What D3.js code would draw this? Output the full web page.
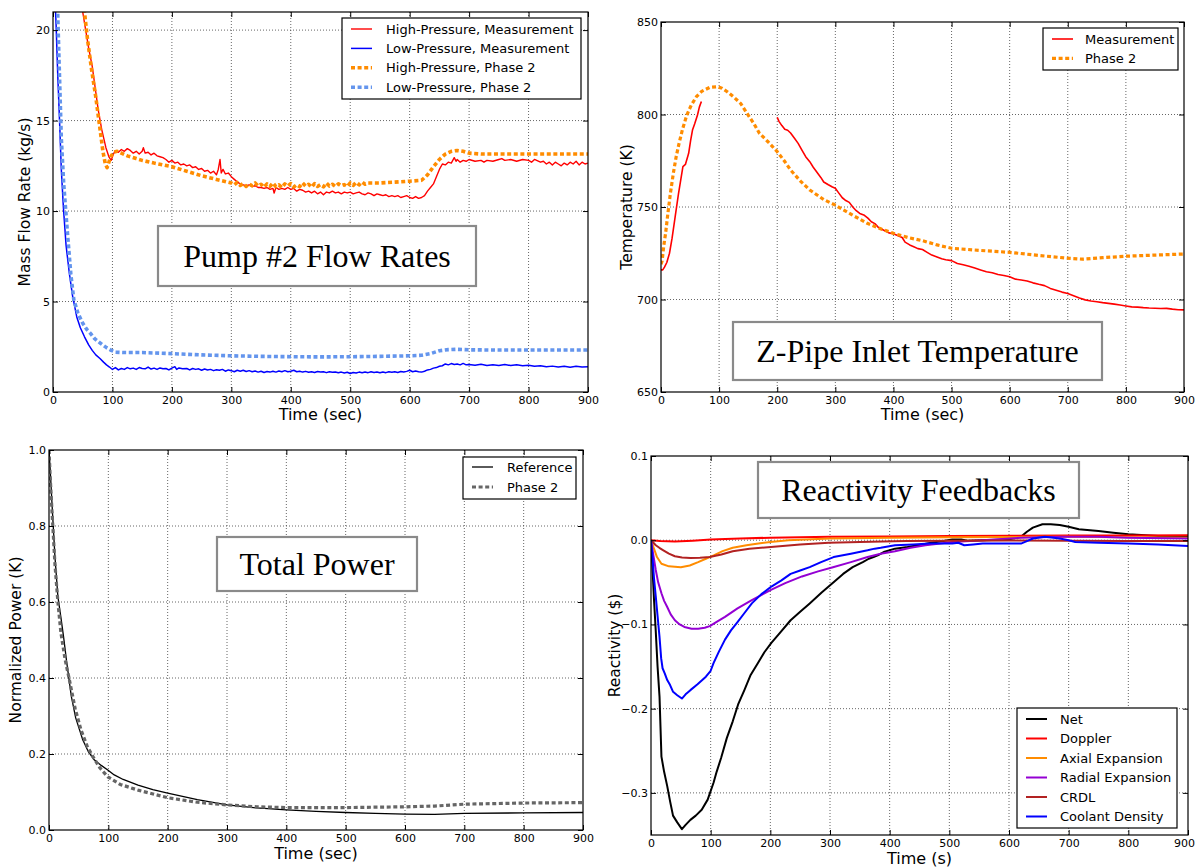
<!DOCTYPE html>
<html>
<head>
<meta charset="utf-8">
<script src="https://cdn.jsdelivr.net/npm/d3@7"></script>
<style>
  html, body { margin: 0; padding: 0; background: #fff; }
  svg { display: block; }
  .tick text { font-family: "DejaVu Sans", sans-serif; font-size: 11px; fill: #000; }
  .axlabel { font-family: "DejaVu Sans", sans-serif; fill: #000; }
  .legend text { font-family: "DejaVu Sans", sans-serif; font-size: 13px; fill: #000; }
  .title { font-family: "Liberation Serif", "Times New Roman", serif; font-size: 32px; fill: #000; }
</style>
</head>
<body>
<svg id="chart" width="1196" height="868"></svg>
<script>
// ---- Pump #2 flow rates (kg/s) ----
const hpMeasurement = [[45,22.4],[50,21.0],[55,20.0],[60,19.0],[66,18.0],[71,16.8],[76,15.6],[82,14.5],[89,13.5],[94,13.0],[98,12.8],[101,13.1],[104,13.3],[110,13.25],[115,13.4],[120,13.3],[125,13.45],[130,13.35],[135,13.2],[140,13.3],[145,13.15],[150,13.3],[152,13.5],[155,13.2],[160,13.25],[165,13.1],[170,13.2],[175,13.05],[180,13.0],[185,12.95],[190,12.85],[195,12.7],[200,12.8],[205,12.65],[210,12.7],[215,12.55],[220,12.6],[225,12.5],[230,12.55],[235,12.4],[240,12.45],[245,12.3],[250,12.35],[255,12.2],[260,12.25],[265,12.1],[270,12.2],[275,12.0],[278,12.3],[281,12.85],[283,12.1],[286,12.3],[290,12.05],[295,12.1],[300,11.9],[305,11.75],[310,11.6],[315,11.5],[320,11.45],[325,11.4],[330,11.45],[335,11.35],[340,11.4],[345,11.3],[350,11.3],[355,11.25],[360,11.3],[365,11.2],[370,11.25],[372,11.0],[375,11.3],[380,11.2],[385,11.25],[390,11.2],[395,11.3],[400,11.2],[405,11.25],[410,11.1],[415,11.2],[420,11.15],[425,11.05],[430,11.1],[435,11.0],[440,11.1],[445,10.95],[450,11.05],[455,10.9],[460,11.05],[465,11.0],[470,11.1],[475,11.0],[480,11.05],[485,10.95],[490,11.05],[495,11.0],[500,11.05],[505,10.95],[510,11.0],[515,11.05],[520,10.95],[525,10.9],[530,11.0],[535,10.95],[540,10.85],[545,10.95],[550,10.9],[555,10.85],[560,10.9],[565,10.8],[570,10.85],[575,10.8],[580,10.85],[585,10.75],[590,10.8],[595,10.85],[600,10.75],[605,10.7],[610,10.8],[615,10.7],[620,10.75],[625,10.85],[630,11.1],[635,11.3],[640,11.5],[645,11.9],[650,12.3],[655,12.6],[660,12.55],[665,12.7],[670,12.65],[675,12.95],[678,12.75],[680,12.85],[685,12.7],[690,12.8],[695,12.75],[700,12.85],[710,12.75],[720,12.8],[725,12.7],[730,12.8],[740,12.75],[750,12.85],[755,12.9],[760,12.8],[770,12.85],[780,12.75],[790,12.85],[800,12.8],[805,12.7],[810,12.85],[820,12.7],[825,12.75],[830,12.6],[835,12.7],[840,12.55],[845,12.7],[850,12.6],[855,12.5],[860,12.65],[865,12.55],[870,12.7],[875,12.6],[880,12.75],[885,12.55],[890,12.7],[895,12.6],[900,12.65]];
const lpMeasurement = [[3,22],[5,20.5],[8,17.5],[11,15.0],[14,12.3],[17.5,10.2],[22,8.1],[27.5,6.55],[33,5.3],[40,4.15],[46,3.55],[53,3.05],[60,2.6],[66,2.3],[72,2.05],[79,1.85],[85,1.65],[90,1.5],[95,1.38],[98,1.3],[100,1.25],[105,1.35],[110,1.22],[115,1.3],[120,1.25],[125,1.35],[130,1.28],[135,1.32],[140,1.25],[145,1.35],[150,1.3],[155,1.28],[160,1.38],[165,1.27],[170,1.32],[175,1.25],[180,1.33],[185,1.28],[190,1.3],[195,1.22],[200,1.32],[205,1.4],[208,1.25],[212,1.33],[218,1.28],[225,1.3],[230,1.22],[235,1.3],[240,1.25],[245,1.28],[250,1.2],[255,1.27],[260,1.22],[265,1.25],[270,1.18],[275,1.23],[280,1.2],[285,1.25],[290,1.15],[295,1.22],[300,1.18],[305,1.12],[310,1.2],[315,1.15],[320,1.2],[325,1.13],[330,1.18],[335,1.12],[340,1.16],[345,1.1],[350,1.15],[355,1.08],[360,1.13],[365,1.1],[370,1.15],[375,1.1],[380,1.16],[385,1.12],[390,1.18],[395,1.12],[400,1.15],[405,1.2],[410,1.12],[415,1.15],[420,1.1],[425,1.14],[430,1.09],[435,1.12],[440,1.08],[445,1.13],[450,1.1],[455,1.12],[460,1.07],[465,1.12],[470,1.09],[475,1.11],[480,1.06],[485,1.1],[490,1.05],[495,1.09],[500,1.02],[505,1.08],[510,1.05],[515,1.1],[520,1.06],[525,1.1],[530,1.07],[535,1.12],[540,1.08],[545,1.11],[550,1.06],[555,1.1],[560,1.07],[565,1.12],[570,1.09],[575,1.12],[580,1.08],[585,1.13],[590,1.1],[595,1.14],[600,1.2],[605,1.12],[610,1.16],[615,1.12],[620,1.1],[625,1.15],[630,1.22],[635,1.25],[640,1.32],[645,1.35],[650,1.42],[655,1.45],[660,1.55],[665,1.5],[670,1.57],[675,1.52],[680,1.55],[685,1.5],[690,1.58],[695,1.5],[700,1.52],[710,1.48],[720,1.53],[730,1.46],[740,1.5],[750,1.47],[760,1.52],[770,1.46],[780,1.5],[790,1.45],[800,1.48],[810,1.42],[820,1.45],[830,1.4],[840,1.43],[850,1.38],[860,1.42],[870,1.37],[880,1.42],[890,1.38],[900,1.4]];
const hpPhase2 = [[50,23],[53,21],[58,19.5],[65,17.8],[72,16.3],[78,14.8],[84,13.3],[88,12.6],[91,12.4],[94,12.7],[97,13.0],[102,13.25],[108,13.3],[115,13.2],[125,13.05],[140,12.9],[150,12.8],[170,12.65],[200,12.45],[225,12.2],[250,11.95],[275,11.75],[300,11.55],[305,11.45],[310,11.58],[315,11.42],[320,11.52],[325,11.36],[330,11.5],[335,11.4],[340,11.55],[345,11.38],[350,11.48],[355,11.32],[360,11.5],[365,11.36],[370,11.55],[375,11.35],[380,11.45],[385,11.3],[390,11.5],[395,11.38],[400,11.52],[405,11.33],[410,11.45],[415,11.35],[420,11.55],[425,11.38],[430,11.48],[435,11.32],[440,11.52],[445,11.36],[450,11.46],[455,11.34],[460,11.55],[465,11.38],[470,11.48],[475,11.36],[480,11.5],[485,11.4],[490,11.46],[495,11.35],[500,11.55],[505,11.42],[510,11.58],[515,11.45],[520,11.6],[525,11.48],[530,11.55],[540,11.55],[550,11.55],[575,11.6],[600,11.65],[620,11.7],[630,12.0],[640,12.45],[650,12.85],[660,13.15],[670,13.3],[680,13.35],[690,13.3],[700,13.2],[720,13.15],[750,13.15],[800,13.15],[900,13.15]];
const lpPhase2 = [[7,22],[10,18.5],[14,14],[18,11.5],[21,10.2],[25,8.5],[30,6.5],[35,5.1],[42,4.35],[50,3.8],[57,3.45],[63,3.24],[70,2.95],[80,2.69],[90,2.45],[98,2.3],[105,2.2],[120,2.18],[150,2.18],[200,2.12],[250,2.05],[300,2.0],[350,1.97],[400,1.95],[450,1.94],[500,1.95],[550,1.97],[600,2.0],[620,2.03],[635,2.12],[650,2.28],[665,2.34],[680,2.36],[700,2.33],[750,2.32],[800,2.32],[900,2.32]];

// ---- Z-pipe inlet temperature (K); the measurement has a gap from 70 s to 200 s ----
const tempMeasurementA = [[0,716],[3,716],[6,717.5],[10,720],[14.6,725],[19,733],[24.4,744.8],[30,757],[37.7,771.8],[42,773],[47.6,779],[51,786],[54.2,791.6],[58,795],[62.8,799.7],[66,804],[69.5,807]];
const tempMeasurementB = [[200,798.5],[203,796.3],[208,794],[213,792],[218,791.5],[223,790],[230,787],[236,784.4],[243,780.5],[249,777.2],[256,774.5],[262,771.5],[269,768.5],[275,766],[280,763.5],[288,762],[295,760.8],[300,760.1],[306,757.5],[312,755],[318,753.5],[324,752.5],[330,750],[336,748],[342,746.5],[350,745.5],[356,744],[362,742],[368,741],[374,739],[380,738],[386,737],[392,736],[400,735.5],[408,734.5],[415,733.5],[420,731],[428,729.5],[435,728.5],[442,727.5],[450,727],[458,725.5],[466,724],[475,723],[483,722],[490,721.5],[500,721],[510,719.5],[520,718.8],[530,718],[540,717],[550,716],[560,715],[570,714.5],[580,713.5],[590,713],[600,712.3],[610,711],[620,710.5],[630,710],[640,709],[650,708.2],[660,707.5],[670,706],[680,705],[690,704],[700,703.2],[710,702],[720,700.8],[730,699.8],[740,699.2],[750,698.8],[760,698.3],[770,697.9],[780,697.5],[790,697],[800,696.5],[810,696],[820,695.9],[830,695.6],[840,695.4],[850,695.3],[860,695.1],[870,695.2],[880,694.8],[890,694.5],[900,694.4]];
const tempPhase2 = [[0,719],[2,721],[4.6,728.6],[8,736],[11.2,744.8],[16,757],[21.2,768.2],[26,777],[31.1,784.4],[37,792],[44.4,799.7],[52,805],[60.9,809.6],[70,812.5],[84,814.7],[97,815],[105,814.2],[114,812.3],[125,809.5],[137,806],[150,799.7],[160,795],[169.5,789.8],[185,785],[200,779.9],[212,775],[223,770],[240,764],[256,759.2],[280,754],[300,751],[330,745.5],[355,741.2],[380,738],[400,735.8],[425,733.5],[450,731.8],[475,729.5],[500,727.7],[550,726.5],[600,725.5],[650,723.8],[700,722.3],[725,721.8],[760,722.6],[800,723.4],[850,724],[900,724.6]];

// ---- Total power (normalized) ----
const powerReference = [[0,1.0],[2,0.95],[5,0.86],[10,0.72],[15,0.614],[20,0.56],[24.5,0.509],[30,0.44],[37.7,0.351],[45,0.295],[57,0.237],[66,0.207],[76.6,0.184],[88,0.17],[99,0.158],[110,0.145],[125,0.133],[150,0.118],[175,0.106],[200,0.097],[250,0.08],[300,0.066],[350,0.058],[400,0.053],[450,0.049],[500,0.046],[550,0.044],[600,0.042],[650,0.041],[700,0.044],[800,0.045],[900,0.046]];
const powerPhase2 = [[0,1.0],[2,0.93],[5,0.84],[10,0.7],[15,0.6],[20,0.52],[27,0.45],[34.4,0.395],[44,0.32],[54,0.263],[64,0.222],[74,0.193],[86,0.163],[99,0.14],[120,0.12],[150,0.105],[200,0.085],[250,0.073],[300,0.066],[350,0.061],[400,0.059],[500,0.059],[600,0.061],[650,0.063],[700,0.068],[800,0.071],[900,0.072]];

// ---- Reactivity feedbacks ($) ----
const rhoNet = [[0,0],[3,-0.04],[5,-0.07],[7.9,-0.107],[11,-0.15],[14.3,-0.186],[17.5,-0.257],[22,-0.275],[27.2,-0.292],[32,-0.31],[36.9,-0.327],[44,-0.335],[51.8,-0.343],[58,-0.338],[66,-0.332],[75,-0.327],[85,-0.32],[95,-0.308],[104.8,-0.288],[110,-0.275],[117.7,-0.258],[127,-0.235],[137,-0.215],[146,-0.195],[156.5,-0.178],[167,-0.16],[179,-0.146],[190,-0.133],[201.7,-0.122],[215,-0.111],[234,-0.095],[250,-0.085],[266,-0.075],[286,-0.062],[306,-0.05],[322,-0.04],[338,-0.032],[355,-0.026],[365,-0.022],[373,-0.02],[380,-0.018],[390,-0.014],[409,-0.01],[430,-0.008],[447,-0.006],[470,-0.003],[490,-0.001],[505,0.001],[520,0.001],[530,-0.0005],[556,0.0],[600,0.001],[620,0.004],[630,0.01],[640,0.015],[656,0.019],[670,0.019],[685,0.018],[700,0.016],[717,0.013],[750,0.011],[775,0.009],[800,0.007],[850,0.005],[900,0.004]];
const rhoDoppler = [[0,0],[15,-0.001],[40,-0.0015],[70,-0.0005],[100,0.0008],[150,0.002],[200,0.003],[300,0.004],[400,0.0045],[500,0.005],[600,0.0052],[700,0.0055],[800,0.0057],[900,0.0058]];
const rhoAxial = [[0,0],[5,-0.01],[10,-0.02],[17.5,-0.028],[30,-0.031],[50,-0.032],[65,-0.03],[79,-0.026],[92,-0.022],[105,-0.018],[120,-0.013],[137,-0.009],[160,-0.006],[180,-0.004],[200,-0.002],[230,0.0],[260,0.001],[300,0.002],[400,0.003],[500,0.0035],[600,0.0038],[650,0.0042],[700,0.004],[800,0.0035],[900,0.003]];
const rhoRadial = [[0,0],[4,-0.018],[7.9,-0.035],[12,-0.05],[17.5,-0.063],[22,-0.072],[27,-0.079],[33,-0.088],[40,-0.095],[48,-0.1],[56,-0.103],[68,-0.105],[79,-0.105],[90,-0.104],[98.5,-0.102],[110,-0.097],[124,-0.091],[145,-0.081],[169,-0.071],[201,-0.059],[225,-0.051],[253,-0.043],[280,-0.037],[305,-0.032],[335,-0.026],[363,-0.02],[385,-0.016],[409,-0.013],[435,-0.009],[460,-0.006],[485,-0.004],[505,-0.002],[556,0.0],[620,0.003],[685,0.004],[750,0.004],[800,0.003],[900,0.002]];
const rhoCRDL = [[0,0],[8,-0.006],[14,-0.009],[20.7,-0.012],[30,-0.016],[40,-0.019],[52,-0.0205],[66,-0.021],[82,-0.0208],[98.5,-0.02],[118,-0.017],[137,-0.013],[165,-0.01],[201,-0.008],[250,-0.005],[298,-0.003],[350,-0.002],[427,-0.001],[500,-0.0005],[600,-0.0003],[700,-0.0005],[800,-0.0008],[900,-0.001]];
const rhoCoolant = [[0,0],[3,-0.025],[5,-0.045],[7.9,-0.066],[11,-0.09],[14.3,-0.115],[17,-0.14],[19.4,-0.152],[23,-0.158],[27.2,-0.166],[32,-0.172],[37,-0.18],[44,-0.184],[51.8,-0.188],[58,-0.183],[66,-0.178],[78,-0.171],[92,-0.162],[100,-0.155],[104.8,-0.146],[114,-0.132],[124,-0.118],[134,-0.107],[144,-0.098],[156,-0.087],[169,-0.075],[185,-0.064],[201.7,-0.055],[218,-0.048],[234,-0.04],[250,-0.036],[266,-0.032],[285,-0.026],[306,-0.02],[335,-0.016],[363,-0.012],[375,-0.01],[385,-0.009],[409,-0.006],[440,-0.005],[467,-0.004],[505,-0.004],[515,-0.003],[525,-0.006],[540,-0.005],[556,-0.004],[600,-0.004],[620,-0.004],[630,-0.001],[640,0.002],[660,0.004],[685,0.002],[700,0.0],[711,-0.002],[750,-0.003],[800,-0.004],[850,-0.005],[900,-0.007]];

// ---- Tick values ----
const timeTicks = [0,100,200,300,400,500,600,700,800,900];
const flowTicks = [0,5,10,15,20];
const tempTicks = [650,700,750,800,850];
const powerTicks = [0.0,0.2,0.4,0.6,0.8,1.0];
const rhoTicks = [-0.3,-0.2,-0.1,0.0,0.1];

const svg = d3.select("#chart");
const fmtMinus = s => s.replace("-", "\u2212");

function panel(cfg) {
  const { id, box, xDomain, yDomain, yTicks, yFmt, xLabel, yLabel, yLabelX, xLabelY, series, legend, title, lastTickShift } = cfg;
  const x = d3.scaleLinear().domain(xDomain).range([box.x0, box.x1]);
  const y = d3.scaleLinear().domain(yDomain).range([box.y1, box.y0]);
  const g = svg.append("g");

  // dotted grid
  const grid = g.append("g").attr("stroke", "#000").attr("stroke-width", 0.8)
    .attr("stroke-dasharray", "1,2").attr("opacity", 0.75);
  timeTicks.forEach(t => {
    if (t === xDomain[0] || t === xDomain[1]) return;
    grid.append("line").attr("x1", x(t)).attr("x2", x(t)).attr("y1", box.y0).attr("y2", box.y1);
  });
  yTicks.forEach(v => {
    if (Math.abs(y(v) - box.y0) < 1 || Math.abs(y(v) - box.y1) < 1) return;
    grid.append("line").attr("x1", box.x0).attr("x2", box.x1).attr("y1", y(v)).attr("y2", y(v));
  });

  // data lines, clipped to the axes area
  g.append("clipPath").attr("id", "clip-" + id).append("rect")
    .attr("x", box.x0).attr("y", box.y0).attr("width", box.x1 - box.x0).attr("height", box.y1 - box.y0);
  const lines = g.append("g").attr("clip-path", `url(#clip-${id})`);
  const line = d3.line().x(d => x(d[0])).y(d => y(d[1]));
  series.forEach(s => {
    (s.parts || [s.data]).forEach(part => {
      lines.append("path").datum(part).attr("d", line)
        .attr("fill", "none").attr("stroke", s.color).attr("stroke-width", s.width)
        .attr("stroke-dasharray", s.dash || null).attr("stroke-linejoin", "round");
    });
  });

  // axes with inward ticks on all four sides
  const xAxis = g.append("g").attr("transform", `translate(0,${box.y1})`)
    .call(d3.axisBottom(x).tickValues(timeTicks).tickSizeInner(-5).tickSizeOuter(0).tickPadding(4));
  g.append("g").attr("transform", `translate(0,${box.y0})`)
    .call(d3.axisTop(x).tickValues(timeTicks).tickSizeInner(-5).tickSizeOuter(0).tickFormat(""));
  g.append("g").attr("transform", `translate(${box.x0},0)`)
    .call(d3.axisLeft(y).tickValues(yTicks).tickSizeInner(-5).tickSizeOuter(0).tickPadding(3)
      .tickFormat(v => fmtMinus(yFmt(v))));
  g.append("g").attr("transform", `translate(${box.x1},0)`)
    .call(d3.axisRight(y).tickValues(yTicks).tickSizeInner(-5).tickSizeOuter(0).tickFormat(""));
  g.selectAll(".domain").remove();
  g.selectAll(".tick line").attr("stroke", "#000").attr("stroke-width", 1);
  xAxis.selectAll("text").attr("dy", "0.71em");
  if (lastTickShift) {
    xAxis.selectAll(".tick").filter(d => d === xDomain[1]).select("text").attr("dx", lastTickShift);
  }

  g.append("rect").attr("x", box.x0).attr("y", box.y0)
    .attr("width", box.x1 - box.x0).attr("height", box.y1 - box.y0)
    .attr("fill", "none").attr("stroke", "#000").attr("stroke-width", 1.2);

  // axis labels
  g.append("text").attr("class", "axlabel").attr("font-size", 16)
    .attr("x", (box.x0 + box.x1) / 2).attr("y", xLabelY).attr("text-anchor", "middle").text(xLabel);
  g.append("text").attr("class", "axlabel").attr("font-size", 15.5)
    .attr("transform", `translate(${yLabelX},${(box.y0 + box.y1) / 2}) rotate(-90)`)
    .attr("text-anchor", "middle").text(yLabel);

  // boxed serif title
  const tb = title.box;
  g.append("rect").attr("x", tb.x).attr("y", tb.y).attr("width", tb.w).attr("height", tb.h)
    .attr("fill", "#fff").attr("stroke", "#8a8a8a").attr("stroke-width", 2.2);
  g.append("text").attr("class", "title").attr("x", tb.x + tb.w / 2).attr("y", tb.y + tb.h / 2 + 11)
    .attr("text-anchor", "middle").text(title.text);

  // legend
  const lg = g.append("g").attr("class", "legend");
  lg.append("rect").attr("x", legend.x).attr("y", legend.y).attr("width", legend.w).attr("height", legend.h)
    .attr("fill", "#fff").attr("stroke", "#000").attr("stroke-width", 1.2);
  series.forEach((s, i) => {
    const yy = legend.y + legend.first + i * legend.step;
    lg.append("line").attr("x1", legend.x + 9).attr("x2", legend.x + 30).attr("y1", yy).attr("y2", yy)
      .attr("stroke", s.color).attr("stroke-width", s.legendWidth || s.width)
      .attr("stroke-dasharray", s.dash || null);
    lg.append("text").attr("x", legend.x + legend.textDx).attr("y", yy).attr("dy", "0.35em").text(s.name);
  });
}

const dots = "4,2.6";

panel({
  id: "flow",
  box: { x0: 53, x1: 588, y0: 12, y1: 392 },
  xDomain: [0, 900], yDomain: [0, 21], yTicks: flowTicks, yFmt: d3.format("d"),
  xLabel: "Time (sec)", xLabelY: 420, yLabel: "Mass Flow Rate (kg/s)", yLabelX: 30,
  series: [
    { name: "High-Pressure, Measurement", data: hpMeasurement, color: "#ff0000", width: 1.4 },
    { name: "Low-Pressure, Measurement", data: lpMeasurement, color: "#0000ff", width: 1.5 },
    { name: "High-Pressure, Phase 2", data: hpPhase2, color: "#ff8c00", width: 3.6, dash: dots },
    { name: "Low-Pressure, Phase 2", data: lpPhase2, color: "#6495ed", width: 3.6, dash: dots }
  ],
  legend: { x: 342, y: 18, w: 239, h: 81, first: 11, step: 19.4, textDx: 44 },
  title: { text: "Pump #2 Flow Rates", box: { x: 158, y: 226, w: 318, h: 60 } }
});

panel({
  id: "temp",
  box: { x0: 661, x1: 1184, y0: 22, y1: 392 },
  xDomain: [0, 900], yDomain: [650, 850], yTicks: tempTicks, yFmt: d3.format("d"),
  xLabel: "Time (sec)", xLabelY: 420, yLabel: "Temperature (K)", yLabelX: 632,
  series: [
    { name: "Measurement", parts: [tempMeasurementA, tempMeasurementB], color: "#ff0000", width: 1.6 },
    { name: "Phase 2", data: tempPhase2, color: "#ff8c00", width: 3.2, dash: dots }
  ],
  legend: { x: 1043, y: 28, w: 135, h: 42, first: 11, step: 19.4, textDx: 42 },
  title: { text: "Z-Pipe Inlet Temperature", box: { x: 733, y: 322, w: 369, h: 58 } }
});

panel({
  id: "power",
  box: { x0: 49, x1: 583, y0: 450, y1: 830 },
  xDomain: [0, 900], yDomain: [0, 1], yTicks: powerTicks, yFmt: d3.format(".1f"),
  xLabel: "Time (sec)", xLabelY: 859, yLabel: "Normalized Power (K)", yLabelX: 21,
  series: [
    { name: "Reference", data: powerReference, color: "#000000", width: 1.3 },
    { name: "Phase 2", data: powerPhase2, color: "#666666", width: 3.2, dash: dots }
  ],
  legend: { x: 463, y: 457, w: 113, h: 42, first: 10, step: 20, textDx: 44 },
  title: { text: "Total Power", box: { x: 217, y: 537, w: 200, h: 54 } }
});

panel({
  id: "rho",
  box: { x0: 651, x1: 1188, y0: 456, y1: 835 },
  xDomain: [0, 900], yDomain: [-0.35, 0.1], yTicks: rhoTicks, yFmt: d3.format(".1f"),
  xLabel: "Time (s)", xLabelY: 864, yLabel: "Reactivity ($)", yLabelX: 620,
  lastTickShift: -4,
  series: [
    { name: "Net", data: rhoNet, color: "#000000", width: 2 },
    { name: "Doppler", data: rhoDoppler, color: "#ff0000", width: 2 },
    { name: "Axial Expansion", data: rhoAxial, color: "#ff8c00", width: 2 },
    { name: "Radial Expansion", data: rhoRadial, color: "#9400d3", width: 2 },
    { name: "CRDL", data: rhoCRDL, color: "#b22222", width: 2 },
    { name: "Coolant Density", data: rhoCoolant, color: "#0000ff", width: 2 }
  ],
  legend: { x: 1017, y: 708, w: 160, h: 120, first: 11, step: 19.5, textDx: 43 },
  title: { text: "Reactivity Feedbacks", box: { x: 758, y: 462, w: 321, h: 56 } }
});
</script>
</body>
</html>
